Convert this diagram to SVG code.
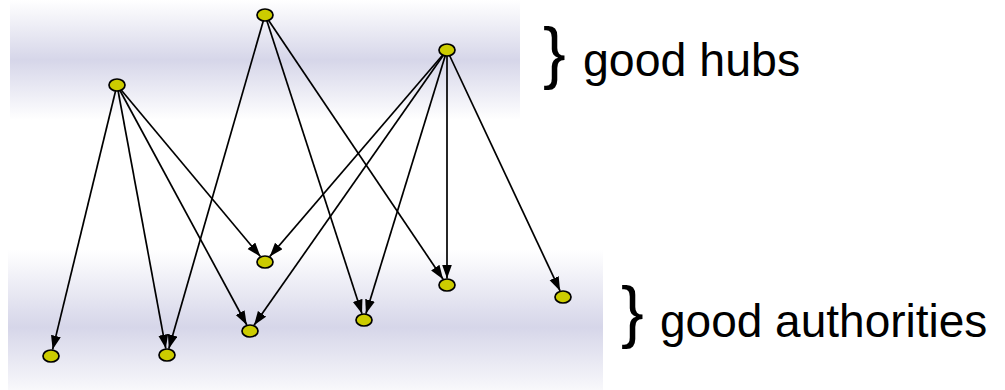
<svg xmlns="http://www.w3.org/2000/svg" width="1005" height="390" viewBox="0 0 1005 390">
<defs>
<linearGradient id="bandTop" x1="0" y1="0" x2="0" y2="1">
<stop offset="0" stop-color="#ffffff"/>
<stop offset="0.5" stop-color="#d6d6e9"/>
<stop offset="1" stop-color="#ffffff"/>
</linearGradient>
<linearGradient id="bandBot" x1="0" y1="0" x2="0" y2="1">
<stop offset="0" stop-color="#ffffff"/>
<stop offset="0.55" stop-color="#d6d6e9"/>
<stop offset="1" stop-color="#f8f8fb"/>
</linearGradient>
<marker id="arr" markerUnits="userSpaceOnUse" markerWidth="15" markerHeight="11" refX="14" refY="5" orient="auto">
<path d="M0,0 L14,5 L0,10 z" fill="#000"/>
</marker>
<style>
.edge{stroke:#000;stroke-width:1.7;fill:none;marker-end:url(#arr)}
.node{fill:#cccc00;stroke:#000;stroke-width:1.7}
.lbl{font-family:"Liberation Sans",Arial,sans-serif;fill:#000}
</style>
</defs>
<rect x="10" y="0" width="510" height="120" fill="url(#bandTop)"/>
<rect x="8" y="250" width="595" height="140" fill="url(#bandBot)"/>
<g id="connectors">
<line class="edge" x1="117" y1="85" x2="52.6" y2="349.6"/>
<line class="edge" x1="117" y1="85" x2="165.8" y2="348.6"/>
<line class="edge" x1="117" y1="85" x2="246.8" y2="325.0"/>
<line class="edge" x1="117" y1="85" x2="260.4" y2="256.5"/>
<line class="edge" x1="265" y1="15" x2="168.8" y2="348.7"/>
<line class="edge" x1="265" y1="15" x2="362.0" y2="313.7"/>
<line class="edge" x1="265" y1="15" x2="443.1" y2="279.2"/>
<line class="edge" x1="447" y1="50" x2="269.7" y2="256.6"/>
<line class="edge" x1="447" y1="50" x2="254.0" y2="325.3"/>
<line class="edge" x1="447" y1="50" x2="365.9" y2="313.7"/>
<line class="edge" x1="447" y1="50" x2="447" y2="278.5"/>
<line class="edge" x1="447" y1="50" x2="560.1" y2="290.9"/>
</g>
<g id="hub1"><ellipse class="node" cx="265" cy="15" rx="8" ry="6"/></g>
<g id="hub2"><ellipse class="node" cx="117" cy="85" rx="8" ry="6"/></g>
<g id="hub3"><ellipse class="node" cx="447" cy="50" rx="8" ry="6"/></g>
<g id="auth1"><ellipse class="node" cx="51" cy="356" rx="8" ry="6"/></g>
<g id="auth2"><ellipse class="node" cx="167" cy="355" rx="8" ry="6"/></g>
<g id="auth3"><ellipse class="node" cx="250" cy="331" rx="8" ry="6"/></g>
<g id="auth4"><ellipse class="node" cx="265" cy="262" rx="8" ry="6"/></g>
<g id="auth5"><ellipse class="node" cx="364" cy="320" rx="8" ry="6"/></g>
<g id="auth6"><ellipse class="node" cx="447" cy="285" rx="8" ry="6"/></g>
<g id="auth7"><ellipse class="node" cx="563" cy="297" rx="8" ry="6"/></g>
<g id="label-hubs">
<text class="lbl" x="543" y="76" font-size="68">}</text>
<text class="lbl" x="583" y="76" font-size="46.5">good hubs</text>
</g>
<g id="label-auth">
<text class="lbl" x="621" y="335" font-size="68">}</text>
<text class="lbl" x="660" y="337" font-size="46">good authorities</text>
</g>
</svg>
